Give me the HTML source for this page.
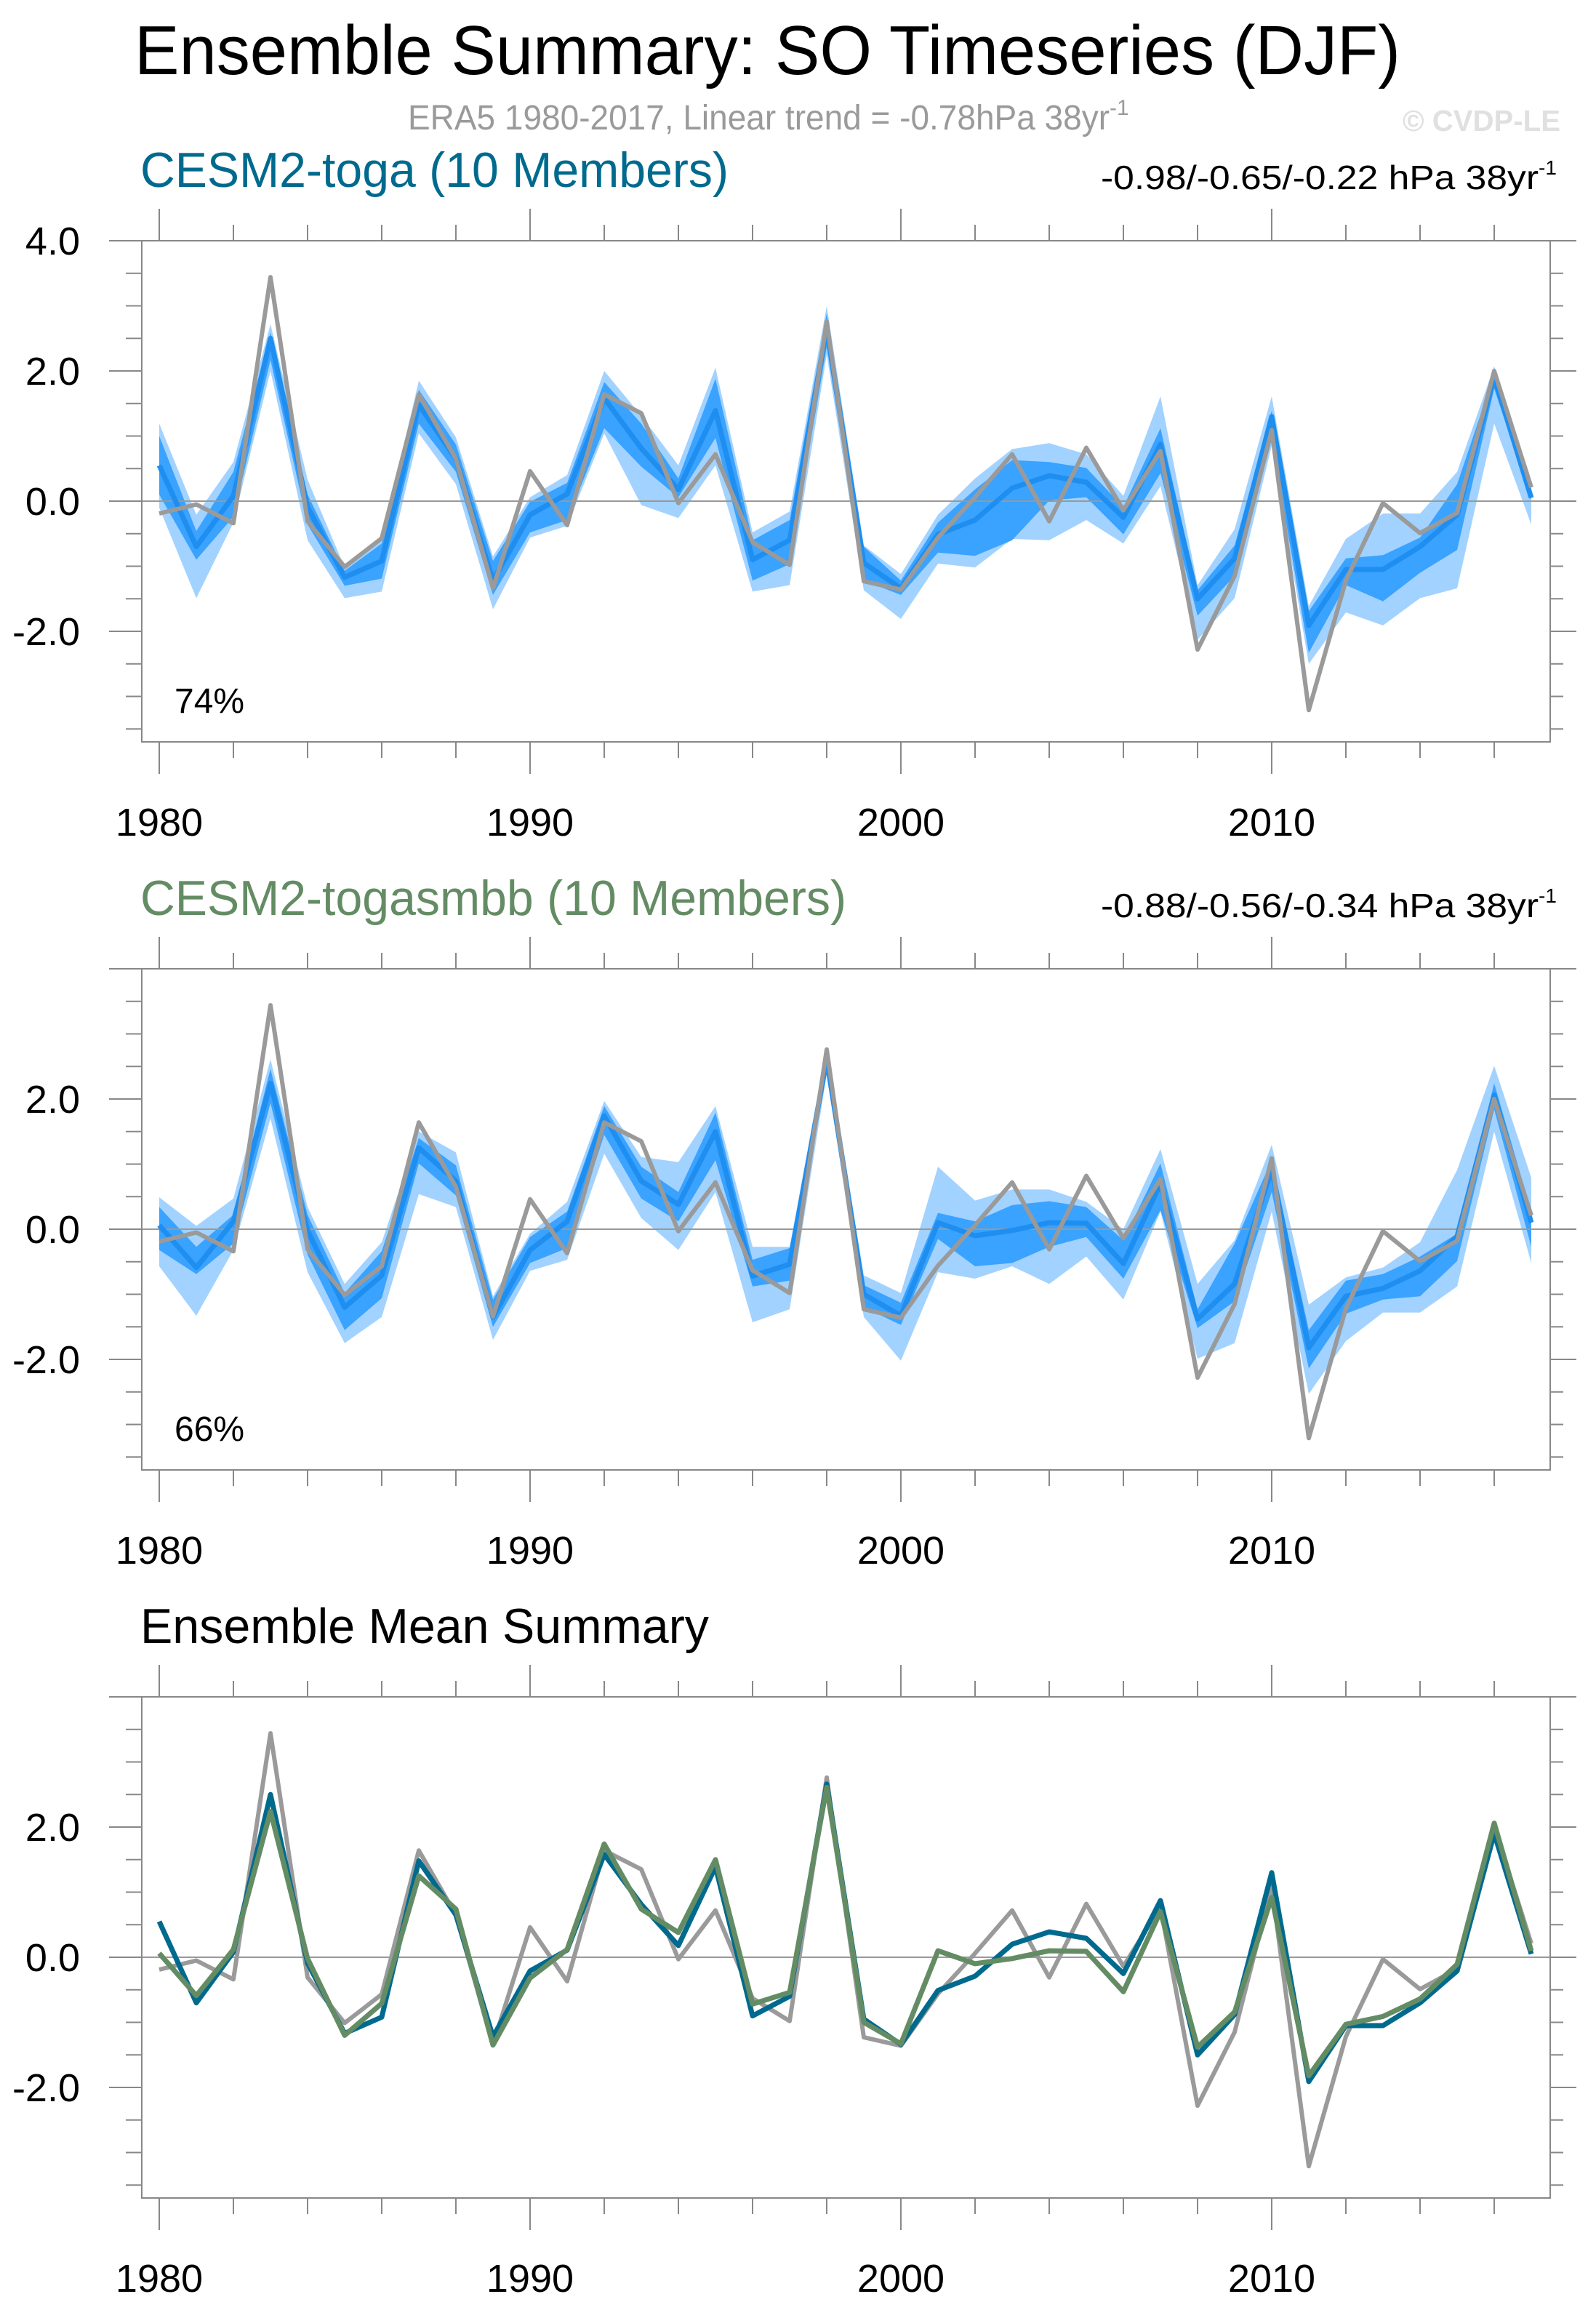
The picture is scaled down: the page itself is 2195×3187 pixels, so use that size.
<!DOCTYPE html>
<html><head><meta charset="utf-8"><title>Ensemble Summary: SO Timeseries (DJF)</title>
<style>html,body{margin:0;padding:0;background:#fff}svg{display:block}text{font-family:"Liberation Sans",Arial,sans-serif}</style>
</head><body>
<svg id="chart" xmlns="http://www.w3.org/2000/svg" width="2195" height="3187" viewBox="0 0 2195 3187">
<rect x="0" y="0" width="2195" height="3187" fill="#fff"/>
<text x="185" y="102" font-size="96" textLength="1741" lengthAdjust="spacingAndGlyphs" fill="#000">Ensemble Summary: SO Timeseries (DJF)</text>
<text x="561" y="178" font-size="48" fill="#9a9a9a"><tspan textLength="965" lengthAdjust="spacingAndGlyphs">ERA5 1980-2017, Linear trend = -0.78hPa 38yr</tspan><tspan dy="-20" font-size="30">-1</tspan></text>
<text x="1929" y="180" font-size="41" font-weight="bold" fill="#e0e0e0" textLength="217" lengthAdjust="spacingAndGlyphs">© CVDP-LE</text>
<g id="panels"></g>
</svg>
<script>
const years = [1980,1981,1982,1983,1984,1985,1986,1987,1988,1989,1990,1991,1992,1993,1994,1995,1996,1997,1998,1999,2000,2001,2002,2003,2004,2005,2006,2007,2008,2009,2010,2011,2012,2013,2014,2015,2016,2017];
const era5 = [-0.19,-0.05,-0.34,3.44,-0.31,-1.01,-0.57,1.64,0.65,-1.34,0.46,-0.37,1.64,1.35,-0.03,0.72,-0.63,-0.98,2.76,-1.23,-1.36,-0.56,0.06,0.72,-0.31,0.82,-0.14,0.77,-2.28,-1.15,1.09,-3.21,-1.22,-0.03,-0.49,-0.18,2.0,0.21];
const togaMean = [0.55,-0.70,0.08,2.5,-0.09,-1.17,-0.92,1.48,0.65,-1.22,-0.21,0.11,1.58,0.81,0.18,1.39,-0.90,-0.60,2.66,-0.95,-1.34,-0.51,-0.29,0.20,0.39,0.29,-0.25,0.87,-1.50,-0.88,1.30,-1.91,-1.05,-1.05,-0.70,-0.21,1.90,0.05];
const togaP25 = [0.1,-0.90,-0.24,2.17,-0.36,-1.30,-1.19,1.19,0.45,-1.44,-0.48,-0.29,1.12,0.53,0.06,0.97,-1.22,-0.97,2.37,-1.22,-1.44,-0.79,-0.84,-0.60,0.01,0.06,-0.51,0.43,-1.76,-1.15,0.94,-2.33,-1.29,-1.54,-1.10,-0.75,1.73,0.01];
const togaP75 = [1.0,-0.46,0.45,2.59,0.10,-1.07,-0.65,1.71,0.87,-0.92,-0.01,0.28,1.83,1.19,0.35,1.88,-0.60,-0.29,2.88,-0.70,-1.22,-0.33,0.18,0.63,0.60,0.51,-0.09,1.12,-1.37,-0.68,1.39,-1.69,-0.88,-0.83,-0.56,0.26,1.95,0.11];
const togaP10 = [-0.1,-1.49,-0.33,2.0,-0.6,-1.49,-1.39,1.04,0.26,-1.66,-0.56,-0.38,1.04,-0.06,-0.26,0.55,-1.39,-1.29,2.25,-1.37,-1.81,-0.96,-1.02,-0.58,-0.60,-0.29,-0.65,0.23,-2.13,-1.49,0.85,-2.5,-1.71,-1.91,-1.49,-1.34,1.19,-0.36];
const togaP90 = [1.19,-0.21,0.6,2.72,0.33,-1.02,-0.58,1.85,0.98,-0.85,0.06,0.4,2.0,1.31,0.55,2.05,-0.48,-0.16,3.0,-0.68,-1.12,-0.21,0.35,0.8,0.89,0.72,0.08,1.61,-1.29,-0.43,1.61,-1.61,-0.58,-0.19,-0.19,0.45,2.07,0.21];
const smbbMean = [0.06,-0.59,0.12,2.24,-0.02,-1.2,-0.71,1.25,0.74,-1.35,-0.32,0.12,1.74,0.74,0.38,1.5,-0.72,-0.54,2.61,-1.0,-1.33,0.10,-0.10,-0.02,0.10,0.09,-0.53,0.70,-1.38,-0.84,0.92,-1.82,-1.03,-0.91,-0.64,-0.11,2.06,0.10];
const smbbP25 = [-0.32,-0.69,-0.22,1.94,-0.39,-1.55,-1.06,1.01,0.52,-1.5,-0.52,-0.29,1.45,0.47,0.12,1.06,-0.88,-0.79,2.48,-1.2,-1.47,-0.15,-0.57,-0.52,-0.27,-0.12,-0.76,0.29,-1.52,-1.11,0.57,-2.14,-1.3,-1.08,-1.03,-0.49,1.84,-0.27];
const smbbP75 = [0.34,-0.27,0.22,2.46,0.22,-0.98,-0.34,1.4,0.98,-1.08,-0.12,0.27,1.89,0.96,0.57,1.79,-0.47,-0.29,2.68,-0.86,-1.13,0.25,0.12,0.37,0.43,0.34,-0.17,1.01,-1.23,-0.22,1.06,-1.55,-0.79,-0.69,-0.42,-0.07,2.24,0.27];
const smbbP10 = [-0.57,-1.33,-0.32,1.70,-0.66,-1.75,-1.35,0.54,0.34,-1.7,-0.64,-0.47,1.16,0.17,-0.32,0.57,-1.43,-1.23,2.38,-1.35,-2.02,-0.66,-0.76,-0.57,-0.84,-0.42,-1.08,0.27,-1.99,-1.75,0.27,-2.53,-1.72,-1.28,-1.28,-0.88,1.5,-0.52];
const smbbP90 = [0.49,0.05,0.47,2.61,0.34,-0.84,-0.2,1.5,1.18,-1.03,-0.07,0.42,1.97,1.11,1.03,1.89,-0.27,-0.27,2.78,-0.71,-0.98,0.96,0.44,0.61,0.61,0.42,0.0,1.23,-0.84,-0.17,1.3,-1.16,-0.74,-0.59,-0.2,0.91,2.51,0.79];
const yTickVals = [-2,0,2,4];
const yTickLabels = ["-2.0","0.0","2.0","4.0"];
const xTickVals = [1980,1990,2000,2010];
const xTickLabels = ["1980","1990","2000","2010"];

const NS = "http://www.w3.org/2000/svg";
const root = document.getElementById('panels');
const BL = 195, BR = 2132;
function xs(yr){ return 219 + (yr - 1980) * 51.0; }
function mk(tag, attrs, parent){ const e = document.createElementNS(NS, tag); for (const k in attrs) e.setAttribute(k, attrs[k]); (parent||root).appendChild(e); return e; }
function pts(xv, yv, ys){ return xv.map((x,i)=>xs(x).toFixed(1)+','+ys(yv[i]).toFixed(1)).join(' '); }
function band(lo, hi, ys){ const a = years.map((x,i)=>xs(x).toFixed(1)+','+ys(hi[i]).toFixed(1)); const b = years.map((x,i)=>xs(x).toFixed(1)+','+ys(lo[i]).toFixed(1)).reverse(); return a.concat(b).join(' '); }

function panel(off, opts){
  const ys = v => 689 + off - 89.5 * v;
  const top = 331 + off, bot = 1020 + off;
  const g = mk('g', {});
  
  
  const t = mk('text', {x: 193, y: 257 + off, 'font-size': 68, fill: opts.color, textLength: opts.titleLen, lengthAdjust: 'spacingAndGlyphs'}, g);
  t.textContent = opts.title;
  
  
  if (opts.trend) {
    const tr = mk('text', {x: 1514, y: 260 + off, 'font-size': 46, fill: '#000'}, g);
    
    
    const s1 = mk('tspan', {textLength: 602, lengthAdjust: 'spacingAndGlyphs'}, tr); s1.textContent = opts.trend;
    const s2 = mk('tspan', {dy: -20, 'font-size': 28}, tr); s2.textContent = '-1';
  }
  const tk = mk('g', {stroke: '#888', 'stroke-width': 2}, g);
  
  
  for (let yr = 1980; yr <= 2016; yr += 2) {
    const major = (yr % 10 === 0);
    mk('line', {x1: xs(yr), x2: xs(yr), y1: top, y2: top - (major ? 44 : 22)}, tk);
    mk('line', {x1: xs(yr), x2: xs(yr), y1: bot, y2: bot + (major ? 44 : 22)}, tk);
  }
  for (let k = -7; k <= 8; k++) {
    const v = k * 0.5; const y = ys(v);
    if (y < top - 1 || y > bot) continue;
    const major = (k % 4 === 0);
    mk('line', {x1: BL, x2: BL - (major ? 45 : 22), y1: y, y2: y}, tk);
    mk('line', {x1: BR, x2: BR + (major ? 36 : 18), y1: y, y2: y}, tk);
  }
  yTickVals.forEach((v,i)=>{
    if (v === 4 && !opts.showTop) return;
    const y = ys(v);
    const l = mk('text', {x: 110, y: y + 19, 'font-size': 54, 'text-anchor': 'end', fill: '#000'}, g);
    l.textContent = yTickLabels[i];
    
    
  });
  xTickVals.forEach((v,i)=>{
    const l = mk('text', {x: xs(v), y: 1149 + off, 'font-size': 54, 'text-anchor': 'middle', fill: '#000'}, g);
    l.textContent = xTickLabels[i];
    
    
  });
  if (opts.bands) {
    const b1 = mk('polygon', {points: band(opts.bands[0], opts.bands[1], ys), fill: '#a2d2ff'}, g);
    
    
    const b2 = mk('polygon', {points: band(opts.bands[2], opts.bands[3], ys), fill: '#3aa2ff'}, g);
    
    
  }
  const z = mk('line', {x1: BL, x2: BR, y1: ys(0), y2: ys(0), stroke: '#999', 'stroke-width': 2}, g);
  
  
  opts.lines.forEach(L=>{
    const p = mk('polyline', {points: pts(years, L.v, ys), fill: 'none', stroke: L.c, 'stroke-width': L.w, 'stroke-linejoin': 'round'}, g);
    
    
  });
  const box = mk('rect', {x: BL, y: top, width: BR - BL, height: bot - top, fill: 'none', stroke: '#888', 'stroke-width': 2}, g);
  
  
  if (opts.pct) {
    const pc = mk('text', {x: 240, y: 980 + off, 'font-size': 48, fill: '#000'}, g);
    pc.textContent = opts.pct;
    
    
  }
}

panel(0, {name: 'panel-cesm2-toga', title: 'CESM2-toga (10 Members)', titleLen: 809, color: '#006a8e', showTop: true,
  trend: '-0.98/-0.65/-0.22 hPa 38yr', pct: '74%',
  bands: [togaP10, togaP90, togaP25, togaP75],
  lines: [{v: togaMean, c: '#1e8ef0', w: 7, n: 'toga-ensemble-mean'}, {v: era5, c: '#9a9a9a', w: 6, n: 'era5-line'}]});
panel(1001, {name: 'panel-cesm2-togasmbb', title: 'CESM2-togasmbb (10 Members)', titleLen: 971, color: '#648c64',
  trend: '-0.88/-0.56/-0.34 hPa 38yr', pct: '66%',
  bands: [smbbP10, smbbP90, smbbP25, smbbP75],
  lines: [{v: smbbMean, c: '#1e8ef0', w: 7, n: 'togasmbb-ensemble-mean'}, {v: era5, c: '#9a9a9a', w: 6, n: 'era5-line'}]});
panel(2002, {name: 'panel-ensemble-mean-summary', title: 'Ensemble Mean Summary', titleLen: 782, color: '#000',
  lines: [{v: era5, c: '#9a9a9a', w: 6, n: 'era5-line'}, {v: togaMean, c: '#006a8e', w: 7, n: 'toga-mean-line'}, {v: smbbMean, c: '#648c64', w: 7, n: 'togasmbb-mean-line'}]});
</script>
</body></html>
